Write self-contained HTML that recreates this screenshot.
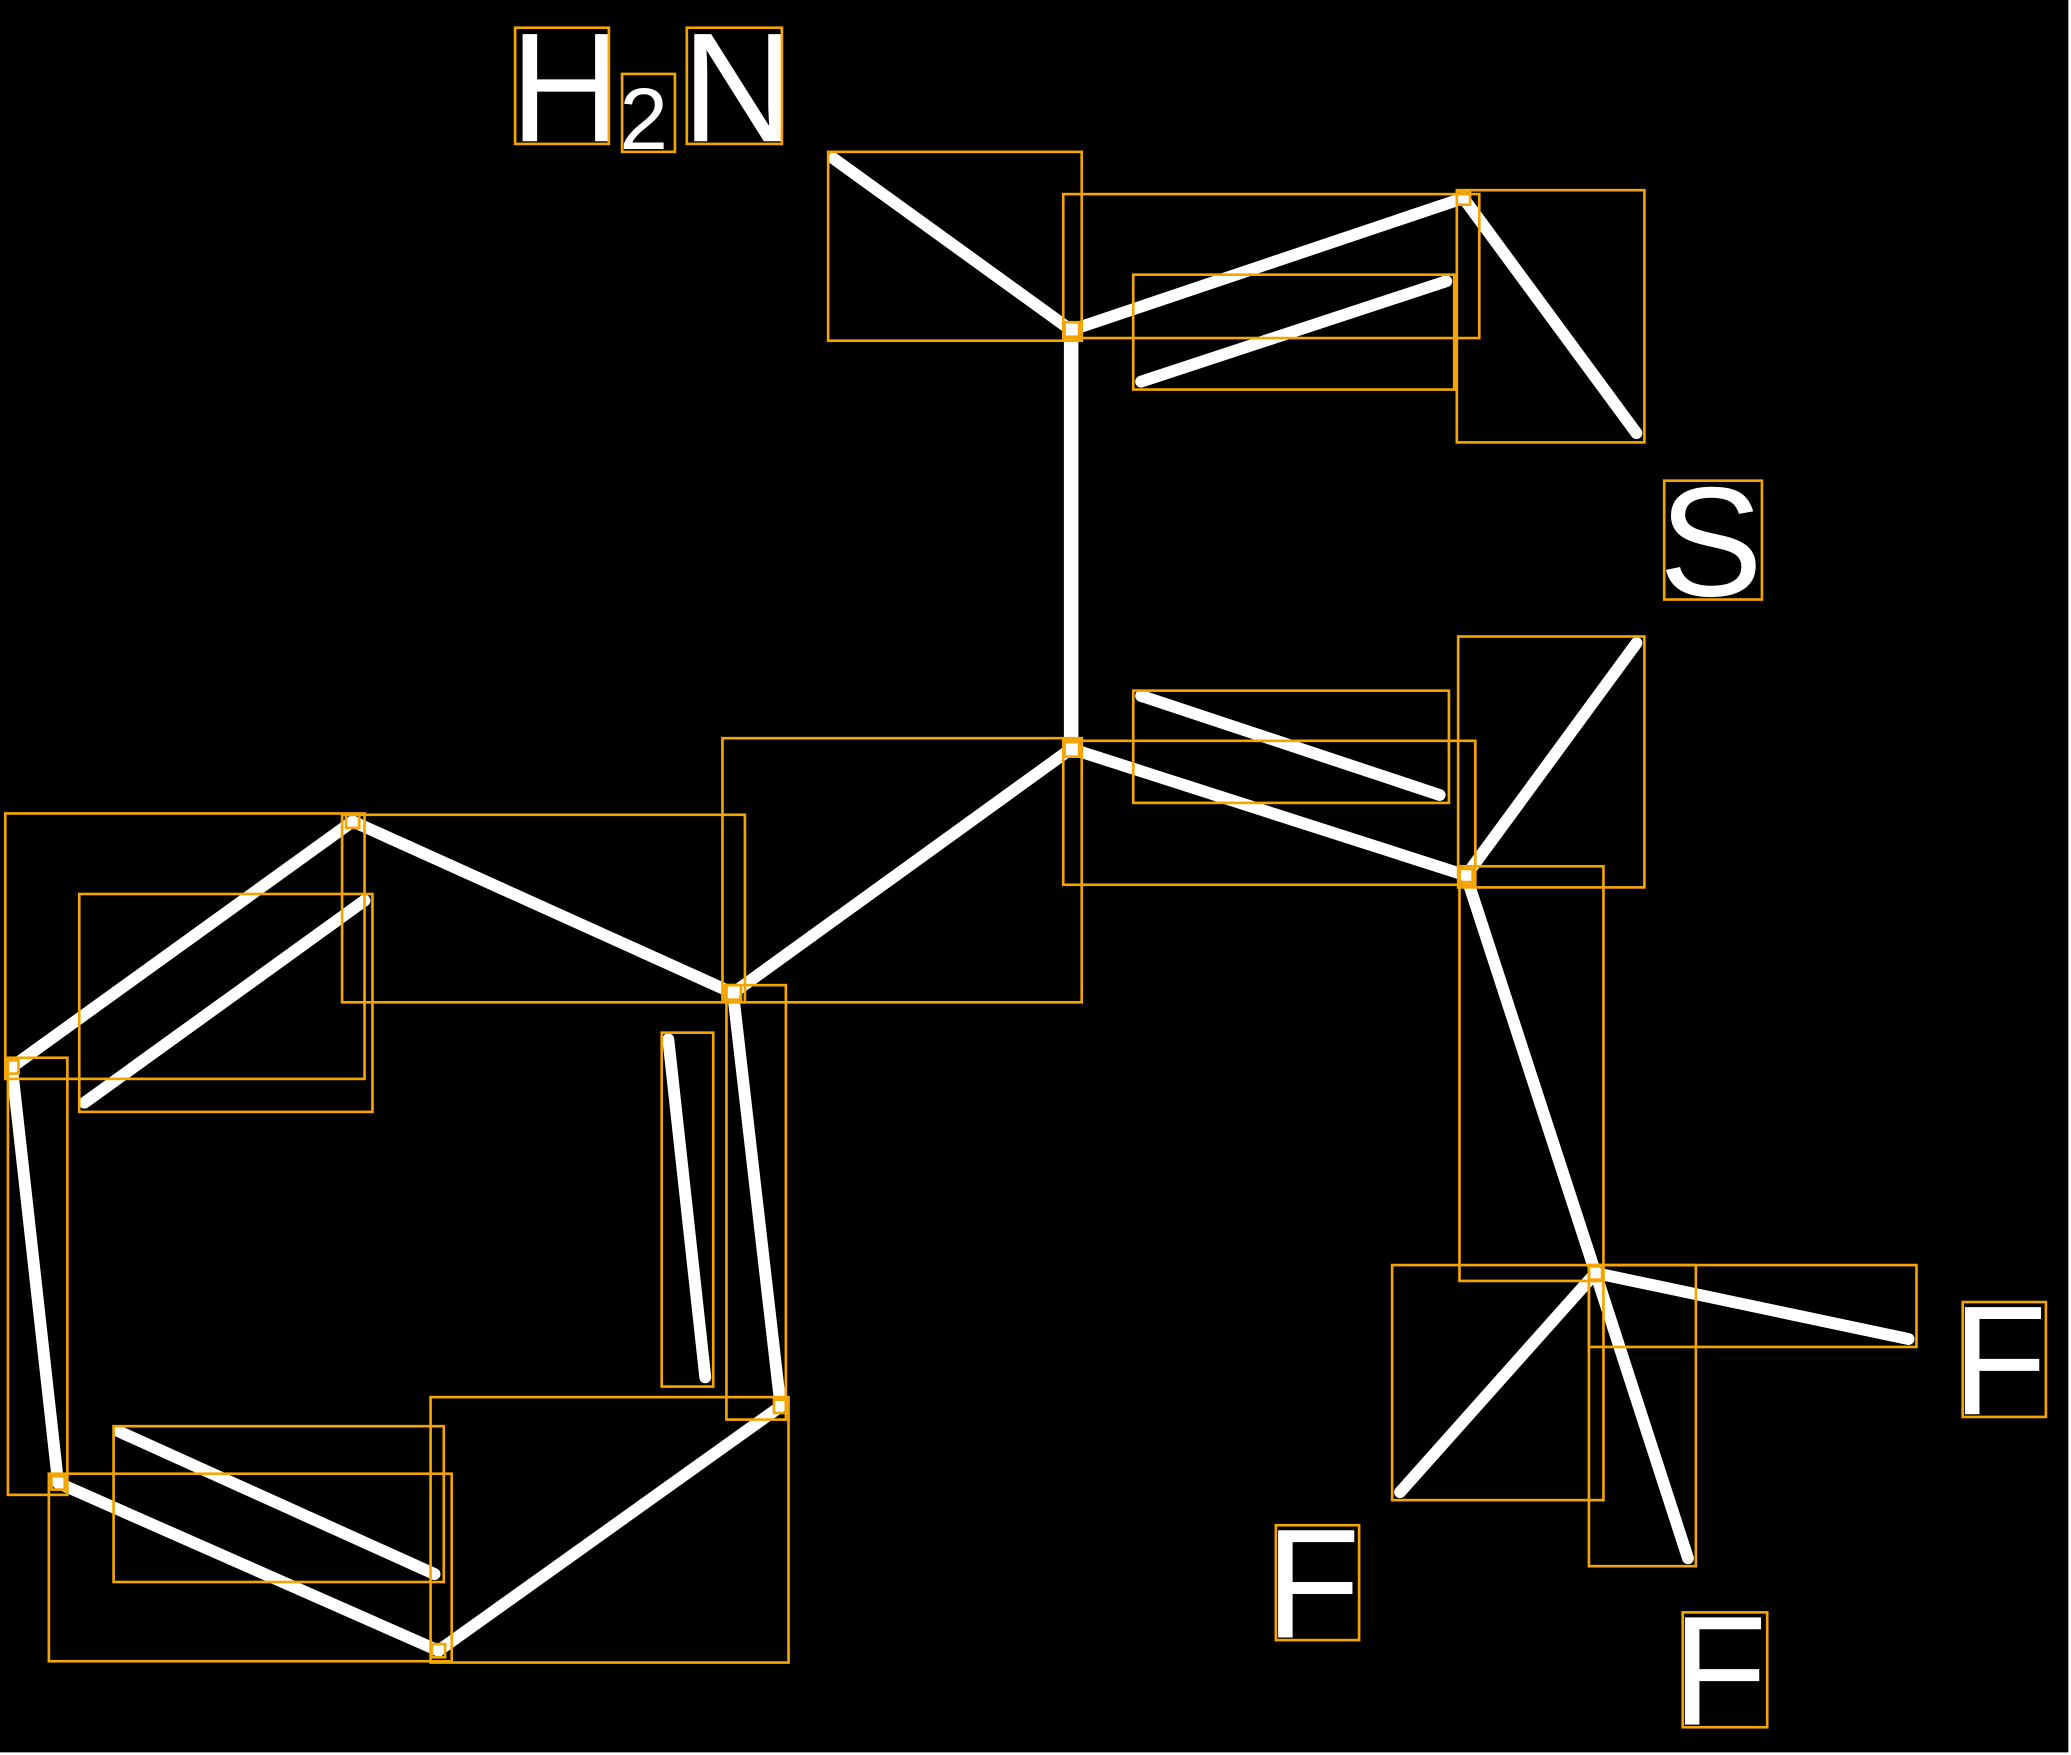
<!DOCTYPE html>
<html><head><meta charset="utf-8"><style>
html,body{margin:0;padding:0;background:#fff;}
svg{display:block;}
</style></head><body>
<svg width="2071" height="1755" viewBox="0 0 1568 1329" preserveAspectRatio="none" xmlns="http://www.w3.org/2000/svg">
<rect x="0" y="0" width="1566" height="1327" fill="#000"/>
<g stroke="#fff" stroke-width="9" stroke-linecap="round">
<line x1="631" y1="120" x2="811" y2="250"/>
<line x1="811" y1="250" x2="1108" y2="150"/>
<line x1="864" y1="289" x2="1095" y2="213"/>
<line x1="1108" y1="150" x2="1239" y2="328"/>
<line x1="811" y1="250" x2="811" y2="567" stroke-width="11"/>
<line x1="811" y1="567" x2="1110" y2="663"/>
<line x1="864" y1="527" x2="1090" y2="602"/>
<line x1="1110" y1="663" x2="1239" y2="487"/>
<line x1="811" y1="567" x2="555" y2="752"/>
<line x1="555" y1="752" x2="267" y2="622"/>
<line x1="267" y1="622" x2="9" y2="808"/>
<line x1="64" y1="835" x2="276" y2="682"/>
<line x1="9" y1="808" x2="44" y2="1123"/>
<line x1="44" y1="1123" x2="332" y2="1250"/>
<line x1="90" y1="1084" x2="329" y2="1192"/>
<line x1="332" y1="1250" x2="591" y2="1065"/>
<line x1="591" y1="1065" x2="555" y2="752"/>
<line x1="506" y1="787" x2="534" y2="1043"/>
<line x1="1110" y1="663" x2="1208" y2="964"/>
<line x1="1208" y1="964" x2="1445" y2="1014"/>
<line x1="1208" y1="964" x2="1060" y2="1130"/>
<line x1="1208" y1="964" x2="1278" y2="1180"/>
</g>
<g fill="#fff" font-family="Liberation Sans, sans-serif">
<text x="386" y="107" font-size="118">H</text>
<text x="469" y="113" font-size="66">2</text>
<text x="516" y="107" font-size="118">N</text>
<text x="1256" y="451" font-size="118">S</text>
<text x="1478" y="1071" font-size="118">F</text>
<text x="958" y="1240" font-size="118">F</text>
<text x="1266" y="1306" font-size="118">F</text>
</g>
<g fill="none" stroke="#f5a500" stroke-width="2">
<rect x="627" y="115" width="192" height="143"/>
<rect x="805" y="147" width="315" height="109"/>
<rect x="858" y="208" width="243" height="87"/>
<rect x="1103" y="144" width="142" height="191"/>
<rect x="1260" y="364" width="74" height="90"/>
<rect x="1104" y="482" width="141" height="190"/>
<rect x="858" y="523" width="239" height="85"/>
<rect x="805" y="561" width="312" height="109"/>
<rect x="547" y="559" width="272" height="200"/>
<rect x="259" y="617" width="305" height="142"/>
<rect x="4" y="616" width="272" height="201"/>
<rect x="60" y="677" width="222" height="165"/>
<rect x="6" y="801" width="45" height="331"/>
<rect x="501" y="782" width="39" height="268"/>
<rect x="550" y="746" width="45" height="329"/>
<rect x="86" y="1080" width="250" height="118"/>
<rect x="37" y="1116" width="305" height="142"/>
<rect x="326" y="1058" width="271" height="201"/>
<rect x="1105" y="656" width="109" height="314"/>
<rect x="1054" y="958" width="160" height="178"/>
<rect x="1203" y="958" width="248" height="62"/>
<rect x="1203" y="958" width="81" height="228"/>
<rect x="390" y="21" width="71" height="88"/>
<rect x="471" y="56" width="40" height="59"/>
<rect x="520" y="21" width="72" height="88"/>
<rect x="1486" y="986" width="63" height="87"/>
<rect x="966" y="1155" width="63" height="87"/>
<rect x="1274" y="1221" width="64" height="87"/>
<rect x="806" y="244" width="11" height="11"/>
<rect x="806" y="562" width="11" height="11"/>
<rect x="549" y="746" width="12" height="11"/>
<rect x="262" y="617" width="10" height="10"/>
<rect x="4" y="803" width="10" height="10"/>
<rect x="39" y="1118" width="10" height="10"/>
<rect x="327" y="1245" width="10" height="10"/>
<rect x="586" y="1060" width="10" height="10"/>
<rect x="1103" y="145" width="10" height="10"/>
<rect x="1105" y="658" width="10" height="10"/>
<rect x="1203" y="959" width="10" height="10"/>
</g>
</svg>
</body></html>
